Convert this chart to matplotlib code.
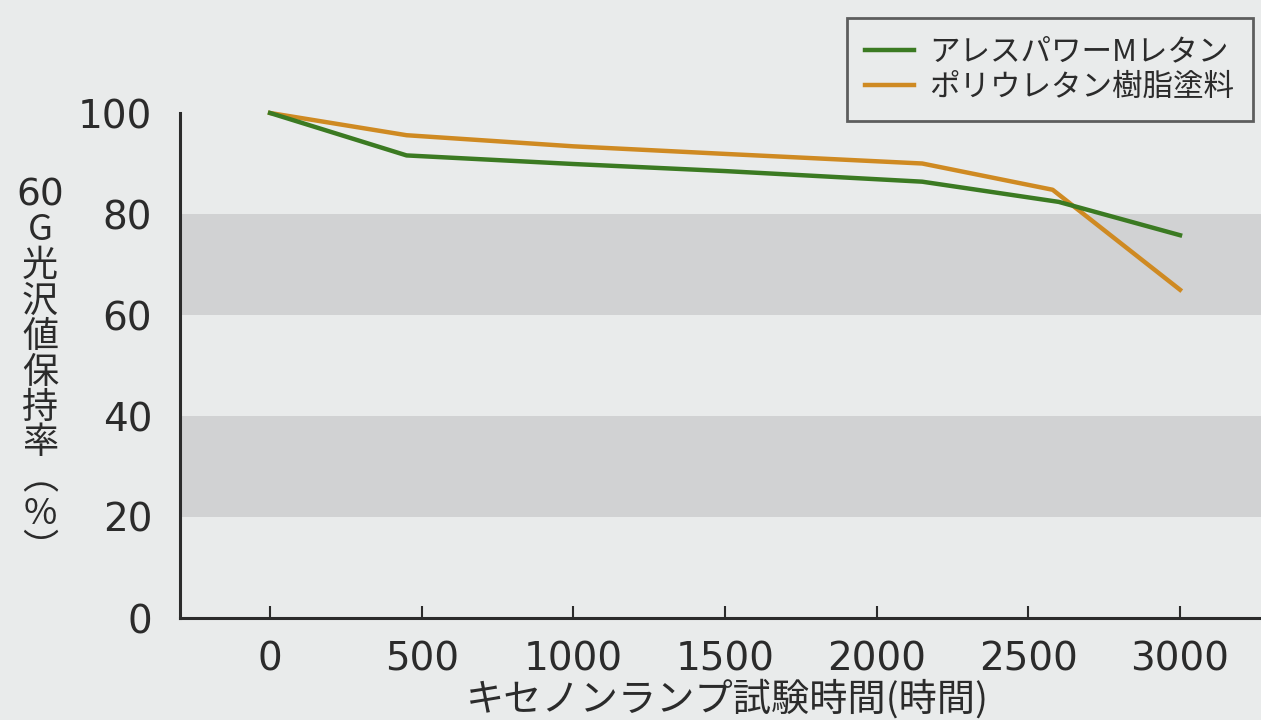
import matplotlib
matplotlib.use('Agg')
import matplotlib.pyplot as plt

plt.rcParams['font.family'] = ['Noto Sans CJK JP', 'DejaVu Sans']

# データ
hours_green = [0, 450, 1000, 1500, 2150, 2600, 3000]
gloss_green = [100, 91.6, 89.9, 88.5, 86.4, 82.4, 75.8]
hours_orange = [0, 450, 1000, 1500, 2150, 2580, 3000]
gloss_orange = [100, 95.6, 93.4, 91.9, 90.0, 84.8, 65.0]

label_green = 'アレスパワーMレタン'
label_orange = 'ポリウレタン樹脂塗料'
xticks = [0, 500, 1000, 1500, 2000, 2500, 3000]
yticks = [0, 20, 40, 60, 80, 100]
bands = [(20, 40), (60, 80)]
ylabel_chars = ['60', 'G', '光', '沢', '値', '保', '持', '率', '︵', '%', '︶']
xlabel = 'キセノンランプ試験時間(時間)'

bg = '#e9ebeb'
band_color = '#d1d2d3'
green = '#3b7a22'
orange = '#cf8a22'
ink = '#2b2b2b'

W, H = 1261, 720
fig = plt.figure(figsize=(W / 100, H / 100), dpi=100, facecolor=bg)
ax = fig.add_axes([180 / W, (H - 618) / H, (W - 180) / W, (618 - 113) / H])
ax.set_facecolor(bg)

for lo, hi in bands:
    ax.axhspan(lo, hi, color=band_color, lw=0, zorder=0)

ax.plot(hours_green, gloss_green, color=green, lw=3.2, label=label_green,
        clip_on=False, zorder=3, solid_joinstyle='round')
ax.plot(hours_orange, gloss_orange, color=orange, lw=3.2, label=label_orange,
        clip_on=False, zorder=2, solid_joinstyle='round')

ax.set_xlim(-297, 3267)
ax.set_ylim(0, 100)
ax.set_xticks(xticks)
ax.set_xticklabels([str(t) for t in xticks], family='DejaVu Sans')
ax.set_yticks(yticks)
ax.set_yticklabels([str(t) for t in yticks], family='DejaVu Sans')
ax.tick_params(axis='x', direction='in', length=9, width=1.5, color=ink,
               labelsize=28, labelcolor=ink, pad=16)
ax.tick_params(axis='y', length=0, labelsize=28, labelcolor=ink, pad=20)

for s in ['top', 'right']:
    ax.spines[s].set_visible(False)
for s in ['left', 'bottom']:
    ax.spines[s].set_color(ink)
    ax.spines[s].set_linewidth(2.2)

# 縦書きの軸ラベル
for i, ch in enumerate(ylabel_chars):
    fs = 27 if i == 0 else 26
    fam = 'DejaVu Sans' if i == 0 else None
    fig.text(40 / W, 1 - (195 + i * 35.5) / H, ch, ha='center', va='center',
             fontsize=fs, color=ink, family=fam)

fig.text(727 / W, 1 - 700 / H, xlabel, ha='center', va='center',
         fontsize=27.5, color=ink)

leg = fig.legend(loc='upper left', bbox_to_anchor=(847 / W, 1 - 18 / H),
                 fontsize=22, frameon=True, fancybox=False, handlelength=1.6,
                 handletextpad=0.5, labelspacing=0.15, borderpad=0.6,
                 borderaxespad=0, labelcolor=ink)
leg.get_frame().set_edgecolor('#3a3a3a')
leg.get_frame().set_linewidth(2)
leg.get_frame().set_facecolor(bg)

fig.savefig('out.png', dpi=100, facecolor=bg)
